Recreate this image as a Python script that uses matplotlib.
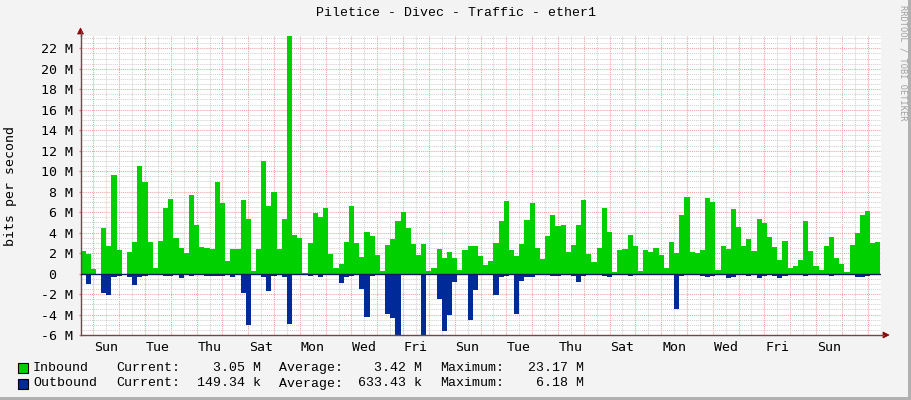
import numpy as np
import matplotlib
matplotlib.use('Agg')
import matplotlib.pyplot as plt
from matplotlib.patches import Polygon, Rectangle
from matplotlib.lines import Line2D
from matplotlib.transforms import ScaledTranslation

# traffic in Mbit/s, one value per 0.2 day (4.8 h), first step starts Saturday noon
step_days = 0.2
start_day = -0.5

inbound = [
    2.18, 1.95, 0.42, 0.00, 4.46, 2.67, 9.60, 2.28, 0.00, 2.08,
    3.06, 10.50, 8.90, 3.06, 0.52, 3.16, 6.38, 7.26, 3.52, 2.48,
    2.02, 7.65, 4.72, 2.57, 2.50, 2.38, 8.92, 6.87, 1.20, 2.38,
    2.38, 7.17, 5.37, 0.26, 2.38, 10.98, 6.58, 7.95, 2.38, 5.30,
    23.17, 3.75, 3.52, 0.07, 2.96, 5.93, 5.50, 6.38, 1.89, 0.55,
    0.91, 3.06, 6.58, 2.96, 1.60, 4.04, 3.68, 1.79, 0.26, 2.77,
    3.36, 5.15, 6.00, 4.43, 2.87, 1.79, 2.87, 0.26, 0.52, 2.38,
    1.50, 2.08, 1.50, 0.33, 2.28, 2.67, 2.70, 1.70, 0.81, 1.20,
    2.96, 5.11, 7.07, 2.28, 1.70, 2.87, 5.21, 6.87, 2.48, 1.40,
    3.65, 5.70, 4.63, 4.72, 2.08, 2.77, 4.72, 7.17, 1.89, 1.10,
    2.48, 6.38, 4.04, 0.13, 2.28, 2.38, 3.75, 2.67, 0.23, 2.28,
    2.08, 2.48, 1.79, 0.52, 3.06, 1.99, 5.70, 7.46, 2.08, 1.99,
    2.28, 7.36, 6.97, 0.33, 2.67, 2.38, 6.29, 4.53, 2.67, 3.36,
    2.18, 5.31, 4.92, 3.55, 2.57, 1.30, 3.16, 0.52, 0.72, 1.30,
    5.11, 2.18, 0.72, 0.33, 2.67, 3.55, 1.50, 0.91, 0.13, 2.77,
    3.94, 5.70, 6.09, 2.96, 3.05,
]

outbound = [
    0.13, 1.00, 0.13, 0.02, 1.92, 2.08, 0.33, 0.20, 0.03, 0.33,
    1.10, 0.33, 0.23, 0.07, 0.07, 0.13, 0.20, 0.20, 0.13, 0.42,
    0.13, 0.23, 0.13, 0.07, 0.23, 0.26, 0.26, 0.26, 0.05, 0.33,
    0.13, 1.92, 5.00, 0.05, 0.10, 0.33, 1.70, 0.20, 0.13, 0.33,
    4.92, 0.16, 0.13, 0.03, 0.23, 0.16, 0.29, 0.16, 0.05, 0.13,
    0.91, 0.33, 0.23, 0.07, 1.50, 4.23, 0.20, 0.13, 0.02, 3.94,
    4.33, 6.18, 0.16, 0.07, 0.13, 0.13, 6.00, 0.02, 0.02, 2.48,
    5.60, 4.04, 0.81, 0.02, 0.13, 4.53, 1.60, 0.10, 0.07, 0.13,
    2.08, 0.33, 0.23, 0.05, 3.94, 0.72, 0.33, 0.33, 0.05, 0.05,
    0.10, 0.23, 0.23, 0.05, 0.13, 0.26, 0.81, 0.23, 0.07, 0.02,
    0.07, 0.23, 0.33, 0.02, 0.13, 0.13, 0.23, 0.13, 0.02, 0.13,
    0.07, 0.13, 0.13, 0.02, 0.13, 3.45, 0.23, 0.13, 0.07, 0.07,
    0.20, 0.29, 0.20, 0.05, 0.13, 0.39, 0.33, 0.16, 0.10, 0.26,
    0.16, 0.39, 0.20, 0.10, 0.20, 0.39, 0.20, 0.05, 0.10, 0.16,
    0.26, 0.13, 0.05, 0.05, 0.13, 0.23, 0.13, 0.05, 0.05, 0.16,
    0.33, 0.33, 0.20, 0.13, 0.15,
]

day_names = ['Sun', 'Tue', 'Thu', 'Sat', 'Mon', 'Wed', 'Fri', 'Sun',
             'Tue', 'Thu', 'Sat', 'Mon', 'Wed', 'Fri', 'Sun']
label_days = [0.5, 2.5, 4.5, 6.5, 8.5, 10.5, 12.5, 14.5,
              16.5, 18.5, 20.5, 22.5, 24.5, 26.5, 28.5]

yticks = [-6, -4, -2, 0, 2, 4, 6, 8, 10, 12, 14, 16, 18, 20, 22]

legend_names = ['Inbound', 'Outbound']
legend_colors = ['#00cf00', '#002a97']
cur_vals = ['3.05 M', '149.34 k']
avg_vals = ['3.42 M', '633.43 k']
max_vals = ['23.17 M', '6.18 M']

W, H = 911, 400
def fx(x):
    return x / W
def fy(y):
    return 1 - y / H

plt.rcParams['font.family'] = 'DejaVu Sans Mono'
FS = 9.5

fig = plt.figure(figsize=(W / 100, H / 100), dpi=100, facecolor='#f3f3f3')
ax = fig.add_axes([fx(80.5), fy(335), 800 / W, (335 - 35.5) / H])
ax.set_facecolor('white')
ax.set_xlim(-0.5, 30.5)
ax.set_ylim(-6, 23.25)

# grid (rrdtool style dotted)
dots = (0, (1, 1))
red = '#f0a0a0'
grey = '#d0d0d0'
for d in np.arange(0.5, 30.5, 1.0):
    ax.axvline(d, color=grey, lw=0.75, ls=dots, zorder=0)
for d in np.arange(0, 31, 1.0):
    ax.axvline(d, color=red, lw=0.75, ls=dots, zorder=0)
for v in np.arange(-6, 23.3, 0.5):
    if v % 2 == 0:
        ax.axhline(v, color=red, lw=0.75, ls=dots, zorder=0)
    else:
        ax.axhline(v, color=grey, lw=0.75, ls=dots, zorder=0)

# data
edges = start_day + step_days * np.arange(len(inbound) + 1)
ax.stairs(inbound, edges, baseline=0, fill=True, color=legend_colors[0], lw=0, zorder=2)
ax.stairs(-np.array(outbound), edges, baseline=0, fill=True, color=legend_colors[1], lw=0, zorder=2)
ax.axhline(0, color='#0d1b5e', lw=1, zorder=3)

for s in ['top', 'right']:
    ax.spines[s].set_visible(False)
for s in ['left', 'bottom']:
    ax.spines[s].set_color('#6a4a4a')
    ax.spines[s].set_linewidth(1)

ax.set_yticks(yticks, labels=[f'{v} M' if v != 0 else '0' for v in yticks])
ax.tick_params(axis='y', length=1.5, width=1, color='#e08080', pad=4.2, labelsize=FS)
ax.set_xticks(label_days, labels=day_names)
ax.tick_params(axis='x', length=0, pad=4, labelsize=FS)

# the "0" label lines up with the digits of the other labels
zero_tick = ax.yaxis.get_major_ticks()[yticks.index(0)]
zero_tick.label1.set_transform(zero_tick.label1.get_transform()
                               + ScaledTranslation(-0.16, 0, fig.dpi_scale_trans))

# axis arrows
arrow_c = '#8b0000'
fig.add_artist(Line2D([fx(80.5), fx(80.5)], [fy(35.5), fy(31)], color='#6a4a4a', lw=1,
                      transform=fig.transFigure))
fig.add_artist(Polygon([[fx(80.5), fy(28)], [fx(77.5), fy(34)], [fx(83.5), fy(34)]],
                       closed=True, fc=arrow_c, ec=arrow_c, lw=0.5, transform=fig.transFigure))
fig.add_artist(Line2D([fx(880.5), fx(884)], [fy(335), fy(335)], color='#6a4a4a', lw=1,
                      transform=fig.transFigure))
fig.add_artist(Polygon([[fx(889), fy(335)], [fx(883), fy(332)], [fx(883), fy(338)]],
                       closed=True, fc=arrow_c, ec=arrow_c, lw=0.5, transform=fig.transFigure))

# titles
fig.text(fx(455.5), fy(13.5), 'Piletice - Divec - Traffic - ether1', ha='center', va='center',
         fontsize=FS, family='Liberation Mono')
fig.text(fx(11), fy(186), 'bits per second', rotation=90, ha='center', va='center', fontsize=FS)
fig.text(fx(902.5), fy(5), 'RRDTOOL / TOBI OETIKER', rotation=270, ha='center', va='top',
         fontsize=6.2, color='#a0a0a0')

# legend
for i in range(2):
    y = 368 + 15.5 * i
    fig.add_artist(Rectangle((fx(18), fy(y + 5)), 10 / W, 10 / H, fc=legend_colors[i], ec='black',
                             lw=0.8, transform=fig.transFigure))
    kw = dict(va='center', fontsize=FS, family='Liberation Mono')
    fig.text(fx(33), fy(y), legend_names[i], ha='left', **kw)
    fig.text(fx(116), fy(y), 'Current:', ha='left', **kw)
    fig.text(fx(261), fy(y), cur_vals[i], ha='right', **kw)
    fig.text(fx(279), fy(y), 'Average:', ha='left', **kw)
    fig.text(fx(422), fy(y), avg_vals[i], ha='right', **kw)
    fig.text(fx(440), fy(y), 'Maximum:', ha='left', **kw)
    fig.text(fx(584), fy(y), max_vals[i], ha='right', **kw)

# rrdtool frame shading
fig.add_artist(Rectangle((fx(908), 0), 3 / W, 1, fc='#b0b0b0', ec='none', transform=fig.transFigure))
fig.add_artist(Rectangle((0, 0), 1, 3 / H, fc='#b0b0b0', ec='none', transform=fig.transFigure))

fig.savefig('out.png', dpi=100, facecolor=fig.get_facecolor())
